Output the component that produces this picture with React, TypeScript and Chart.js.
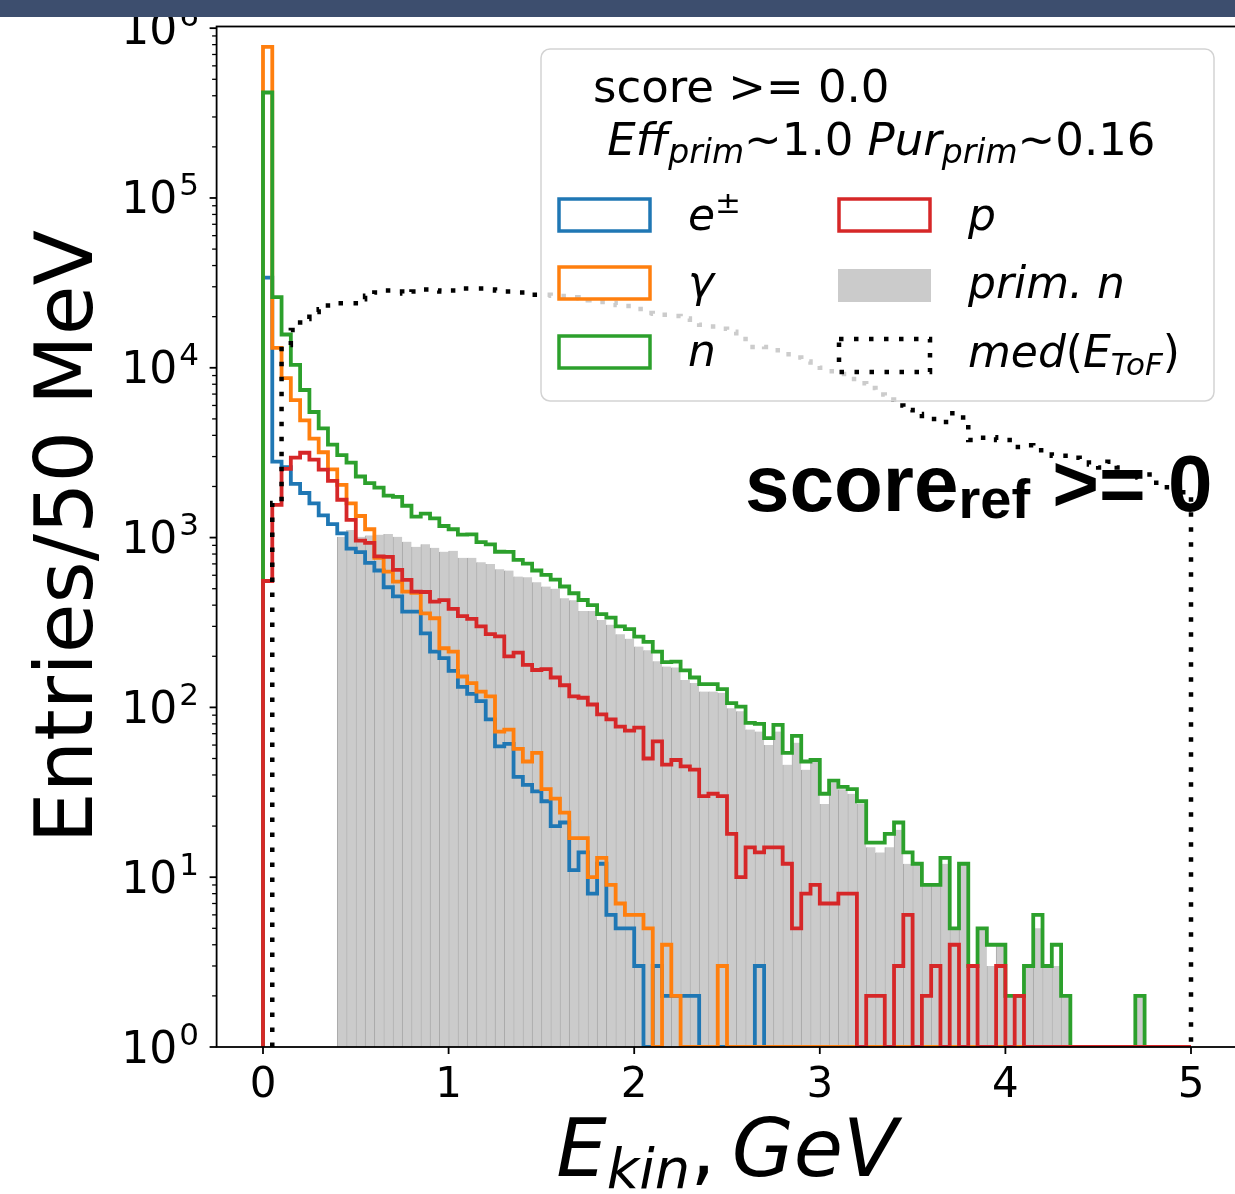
import React, { useEffect, useRef } from 'react';
import { Chart, registerables } from 'chart.js';

Chart.register(...registerables);

// ---- binning (50 MeV bins from 0 to 5 GeV) ----
const BIN_WIDTH = 0.05;
const N_BINS = 100;
const BIN_EDGES: number[] = Array.from({ length: N_BINS + 1 }, (_, i) => +(i * BIN_WIDTH).toFixed(2));

// ---- axis settings ----
const X_MIN = -0.25;
const X_MAX = 5.25;
const Y_MIN = 1;
const Y_MAX = 1.023e6;
const X_TICKS = [0, 1, 2, 3, 4, 5];
const Y_DECADES = [0, 1, 2, 3, 4, 5, 6];

// ---- series (entries per 50 MeV bin) ----
const E_PM: number[] = [
  34000, 2800, 2600, 2070, 1830, 1590, 1350, 1200, 1060, 860,
  820, 710, 640, 510, 450, 366, 366, 273, 213, 195,
  164, 132, 120, 109, 85, 59, 61, 39, 35, 32,
  28, 20, 21, 11, 14, 8, 12, 6, 5, 5,
  3, 0, 3, 2, 2, 2, 2, 0, 0, 0,
  0, 0, 0, 3, 0, 0, 0, 0, 0, 0,
  0, 0, 0, 0, 0, 0, 0, 0, 0, 0,
  0, 0, 0, 0, 0, 0, 0, 0, 0, 0,
  0, 0, 0, 0, 0, 0, 0, 0, 0, 0,
  0, 0, 0, 0, 0, 0, 0, 0, 0, 0,
];

const GAMMA: number[] = [
  776000, 13100, 8690, 6450, 4900, 3830, 3180, 2520, 2045, 1590,
  1340, 1120, 760, 630, 550, 480, 472, 358, 335, 223,
  213, 152, 139, 124, 116, 72, 74, 57, 48, 54,
  33, 29, 24, 17, 17, 10, 13, 9, 7, 6,
  6, 5, 0, 4, 2, 0, 0, 0, 0, 3,
  0, 0, 0, 0, 0, 0, 0, 0, 0, 0,
  0, 0, 0, 0, 0, 0, 0, 0, 0, 0,
  0, 0, 0, 0, 0, 0, 0, 0, 0, 0,
  0, 0, 0, 0, 0, 0, 0, 0, 0, 0,
  0, 0, 0, 0, 0, 0, 0, 0, 0, 0,
];

const NEUTRON: number[] = [
  418000, 26100, 15700, 10400, 7400, 5490, 4400, 3530, 3060, 2760,
  2290, 2095, 1970, 1765, 1735, 1540, 1330, 1385, 1298, 1170,
  1120, 1040, 1045, 940, 912, 825, 823, 740, 702, 640,
  603, 566, 515, 470, 429, 400, 354, 338, 300, 289,
  261, 243, 213, 185, 186, 165, 150, 137, 137, 128,
  106, 101, 81, 80, 66, 79, 54, 68, 48, 49,
  31, 37, 34, 33, 28, 16, 16, 18, 21, 14,
  12, 9, 9, 13, 5, 12, 3, 5, 4, 4,
  2, 2, 3, 6, 3, 4, 2, 0, 0, 0,
  0, 0, 0, 0, 2, 0, 0, 0, 0, 0,
];

const PROTON: number[] = [
  555, 1560, 2540, 2960, 3160, 2880, 2510, 2160, 1670, 1270,
  960, 930, 775, 770, 645, 563, 480, 478, 420, 428,
  380, 345, 332, 300, 270, 262, 200, 210, 178, 166,
  168, 150, 135, 116, 114, 104, 91, 85, 77, 73,
  76, 50, 63, 46, 49, 45, 43, 30, 31, 30,
  18, 10, 15, 14, 15, 15, 12, 5, 8, 9,
  7, 7, 8, 8, 0, 2, 2, 0, 3, 6,
  0, 2, 3, 0, 4, 0, 3, 0, 0, 3,
  0, 2, 0, 0, 0, 0, 0, 0, 0, 0,
  0, 0, 0, 0, 0, 0, 0, 0, 0, 0,
];

const PRIM_N: number[] = [
  0, 0, 0, 0, 0, 0, 0, 0, 1012, 1108,
  1012, 1030, 1040, 1050, 1012, 946, 883, 915, 870, 826,
  837, 760, 760, 715, 700, 650, 640, 590, 585, 545,
  515, 500, 440, 428, 370, 370, 327, 307, 270, 254,
  228, 217, 187, 174, 172, 145, 139, 124, 124, 122,
  99, 95, 74, 72, 60, 72, 46, 62, 43, 48,
  27, 36, 33, 31, 27, 15, 14, 15, 19, 12,
  12, 9, 9, 12, 5, 12, 3, 5, 3, 4,
  2, 2, 3, 5, 3, 3, 2, 0, 0, 0,
  0, 0, 0, 0, 2, 0, 0, 0, 0, 0,
];

const MED_ETOF: number[] = [
  0, 1600, 13600, 16700, 19400, 21300, 22100, 23300, 24000, 24000,
  25300, 26600, 27800, 28500, 28100, 27400, 28100, 28900, 28500, 28100,
  28500, 29300, 29300, 29300, 28900, 28500, 28100, 27800, 27800, 26900,
  26900, 26600, 26500, 26000, 25700, 25000, 24400, 24100, 23400, 23100,
  22200, 21000, 20800, 20500, 20200, 19500, 18600, 17900, 17500, 17000,
  16300, 15400, 13250, 13400, 13250, 12700, 12000, 11500, 10900, 10400,
  10000, 9550, 9200, 8600, 8100, 7600, 6950, 6500, 6000, 5650,
  5350, 5200, 5000, 4800, 5400, 5100, 3750, 3870, 3900, 3750,
  3750, 3420, 3500, 3270, 3270, 3030, 3030, 2950, 2770, 2690,
  2590, 2800, 2590, 2260, 2290, 2350, 2100, 1980, 2100, 1850,
];

// ---- text ----
const LEGEND_TITLE_1 = 'score >= 0.0';
const Y_TITLE = 'Entries/50 MeV';

// ---- colours ----
const C_BLUE = '#1f77b4';
const C_ORANGE = '#ff7f0e';
const C_GREEN = '#2ca02c';
const C_RED = '#d62728';
const C_GRAY = '#cbcbcb';
const C_GRAY_EDGE = '#a9a9a9';

const DJ = '"DejaVu Sans"';
const R = (s: number) => `${s}px ${DJ}`;
const I = (s: number) => `italic ${s}px ${DJ}`;
const B = (s: number) => `bold ${s}px "Liberation Sans"`;

type Run = { t: string; f: string; dy?: number; dx?: number };

function runsWidth(ctx: CanvasRenderingContext2D, runs: Run[]) {
  let w = 0;
  for (const r of runs) {
    ctx.font = r.f;
    w += ctx.measureText(r.t).width + (r.dx || 0);
  }
  return w;
}

function drawRuns(ctx: CanvasRenderingContext2D, runs: Run[], x: number, y: number, align: 'left' | 'center' | 'right' = 'left') {
  const w = runsWidth(ctx, runs);
  let cx = align === 'center' ? x - w / 2 : align === 'right' ? x - w : x;
  ctx.textAlign = 'left';
  ctx.textBaseline = 'alphabetic';
  for (const r of runs) {
    ctx.font = r.f;
    cx += r.dx || 0;
    ctx.fillText(r.t, cx, y + (r.dy || 0));
    cx += ctx.measureText(r.t).width;
  }
}

function stepPoints(counts: number[]) {
  let first = 0;
  while (first < counts.length && counts[first] <= 0) first++;
  const pts: { x: number; y: number }[] = [{ x: BIN_EDGES[first], y: Y_MIN }];
  for (let i = first; i < counts.length; i++) {
    pts.push({ x: BIN_EDGES[i], y: counts[i] > 0 ? counts[i] : Y_MIN });
  }
  pts.push({ x: BIN_EDGES[counts.length], y: Y_MIN });
  return pts;
}

const decorPlugin = {
  id: 'mplDecor',
  afterDatasetsDraw(chart: any) {
    const ctx: CanvasRenderingContext2D = chart.ctx;
    const a = chart.chartArea;
    const xs = chart.scales.x;
    const ys = chart.scales.y;
    ctx.save();
    ctx.fillStyle = '#000';
    ctx.strokeStyle = '#000';
    ctx.setLineDash([]);

    // spines
    ctx.lineWidth = 1.8;
    ctx.strokeRect(a.left, a.top, a.right - a.left, a.bottom - a.top);

    // x ticks + labels
    for (const v of X_TICKS) {
      const px = xs.getPixelForValue(v);
      ctx.lineWidth = 1.8;
      ctx.beginPath();
      ctx.moveTo(px, a.bottom);
      ctx.lineTo(px, a.bottom + 7);
      ctx.stroke();
      drawRuns(ctx, [{ t: String(v), f: R(42) }], px, 1097, 'center');
    }

    // y ticks (major + minor) + labels
    for (const d of Y_DECADES) {
      const base = Math.pow(10, d);
      for (let m = 1; m <= 9; m++) {
        const v = base * m;
        if (v < Y_MIN || v > Y_MAX) continue;
        const py = ys.getPixelForValue(v);
        const major = m === 1;
        ctx.lineWidth = major ? 1.8 : 1.3;
        ctx.beginPath();
        ctx.moveTo(a.left, py);
        ctx.lineTo(a.left - (major ? 7 : 4.5), py);
        ctx.stroke();
        if (major) {
          drawRuns(ctx, [
            { t: '10', f: R(44) },
            { t: String(d), f: R(31), dy: -18, dx: 2 },
          ], 199, py + 15.5, 'right');
        }
      }
    }

    // axis titles
    ctx.save();
    ctx.translate(92, (a.top + a.bottom) / 2);
    ctx.rotate(-Math.PI / 2);
    drawRuns(ctx, [{ t: Y_TITLE, f: R(81) }], 0, 0, 'center');
    ctx.restore();

    drawRuns(ctx, [
      { t: 'E', f: I(80) },
      { t: 'kin', f: I(56), dy: 12 },
      { t: ',', f: R(80) },
      { t: 'GeV', f: I(80), dx: 16 },
    ], (a.left + a.right) / 2, 1176, 'center');

    // legend frame
    ctx.beginPath();
    (ctx as any).roundRect(541, 49, 673, 352, 9);
    ctx.fillStyle = 'rgba(255,255,255,0.8)';
    ctx.fill();
    ctx.lineWidth = 1.5;
    ctx.strokeStyle = '#d3d3d3';
    ctx.stroke();

    ctx.fillStyle = '#000';
    drawRuns(ctx, [{ t: LEGEND_TITLE_1, f: R(45) }], 593, 102);
    drawRuns(ctx, [
      { t: ' ', f: R(45) },
      { t: 'Eff', f: I(45) },
      { t: 'prim', f: I(33), dy: 8 },
      { t: '~1.0 ', f: R(45) },
      { t: 'Pur', f: I(45) },
      { t: 'prim', f: I(33), dy: 8 },
      { t: '~0.16', f: R(45) },
    ], 593, 155);

    // legend handles
    ctx.lineWidth = 3.5;
    const box = (x: number, y: number, col: string) => {
      ctx.strokeStyle = col;
      ctx.strokeRect(x, y, 91, 32);
    };
    box(559, 199, C_BLUE);
    box(559, 267, C_ORANGE);
    box(559, 336, C_GREEN);
    box(839, 199, C_RED);
    ctx.fillStyle = C_GRAY;
    ctx.fillRect(838, 269, 93, 33);
    ctx.save();
    ctx.strokeStyle = '#000';
    ctx.lineWidth = 4.5;
    ctx.setLineDash([4.5, 10.5]);
    ctx.strokeRect(839, 339, 91, 33);
    ctx.restore();

    ctx.fillStyle = '#000';
    drawRuns(ctx, [{ t: 'e', f: I(44) }, { t: '±', f: R(31), dy: -17 }], 688, 230);
    drawRuns(ctx, [{ t: 'γ', f: I(44) }], 688, 297);
    drawRuns(ctx, [{ t: 'n', f: I(44) }], 688, 366);
    drawRuns(ctx, [{ t: 'p', f: I(44) }], 968, 230);
    drawRuns(ctx, [{ t: 'prim. n', f: I(44) }], 968, 298);
    drawRuns(ctx, [
      { t: 'med', f: I(44) },
      { t: '(', f: R(44) },
      { t: 'E', f: I(44) },
      { t: 'ToF', f: I(31), dy: 8 },
      { t: ')', f: R(44) },
    ], 968, 367);

    // annotation
    drawRuns(ctx, [
      { t: 'score', f: B(80) },
      { t: 'ref', f: B(56), dy: 7 },
      { t: ' >= 0', f: B(80) },
    ], 745, 511);

    ctx.restore();
  },
};

export default function App() {
  const ref = useRef<HTMLCanvasElement>(null);

  useEffect(() => {
    const canvas = ref.current;
    if (!canvas) return;
    const lineDs = (label: string, counts: number[], color: string, order: number, extra: any = {}) => ({
      type: 'line',
      label,
      data: stepPoints(counts),
      borderColor: color,
      backgroundColor: color,
      borderWidth: 3.8,
      pointRadius: 0,
      pointHoverRadius: 0,
      fill: false,
      stepped: true,
      tension: 0,
      order,
      clip: 0,
      borderJoinStyle: 'miter',
      borderCapStyle: 'butt',
      ...extra,
    });

    const chart = new Chart(canvas, {
      type: 'bar',
      data: {
        datasets: [
          {
            type: 'bar',
            label: 'prim. n',
            data: PRIM_N.map((v, i) => ({ x: (BIN_EDGES[i] + BIN_EDGES[i + 1]) / 2, y: v > 0 ? v : null })),
            backgroundColor: C_GRAY,
            borderColor: C_GRAY_EDGE,
            borderWidth: { left: 1, right: 0, top: 0, bottom: 0 },
            barPercentage: 1,
            categoryPercentage: 1,
            grouped: false,
            order: 10,
          } as any,
          lineDs('e±', E_PM, C_BLUE, 5),
          lineDs('γ', GAMMA, C_ORANGE, 4),
          lineDs('n', NEUTRON, C_GREEN, 3),
          lineDs('p', PROTON, C_RED, 2),
          lineDs('med(E_ToF)', MED_ETOF, '#000', 1, { borderWidth: 4.5, borderDash: [4.5, 10.5] }),
        ],
      },
      options: {
        animation: false,
        responsive: false,
        devicePixelRatio: 1,
        events: [],
        layout: { padding: { top: 26.5, right: 2.6, left: 0, bottom: 0 } },
        plugins: {
          legend: { display: false },
          tooltip: { enabled: false },
          title: { display: false },
        },
        scales: {
          x: {
            type: 'linear',
            min: X_MIN,
            max: X_MAX,
            offset: false,
            bounds: 'data',
            grid: { display: false },
            border: { display: false },
            ticks: { display: false },
            afterFit: (s: any) => { s.height = 147; },
          },
          y: {
            type: 'logarithmic',
            min: Y_MIN,
            max: Y_MAX,
            bounds: 'data',
            grid: { display: false },
            border: { display: false },
            ticks: { display: false },
            afterFit: (s: any) => { s.width = 216.6; },
          },
        },
      } as any,
      plugins: [decorPlugin],
    } as any);

    return () => chart.destroy();
  }, []);

  return (
    <div style={{ position: 'fixed', left: 0, top: 0, width: 1235, height: 1194, overflow: 'hidden', background: '#fff' }}>
      <canvas ref={ref} width={1240} height={1194} style={{ position: 'absolute', left: 0, top: 0, width: 1240, height: 1194 }} />
      <div style={{ position: 'absolute', left: 0, top: 0, width: 1235, height: 17, background: '#3d4e6e' }} />
    </div>
  );
}
